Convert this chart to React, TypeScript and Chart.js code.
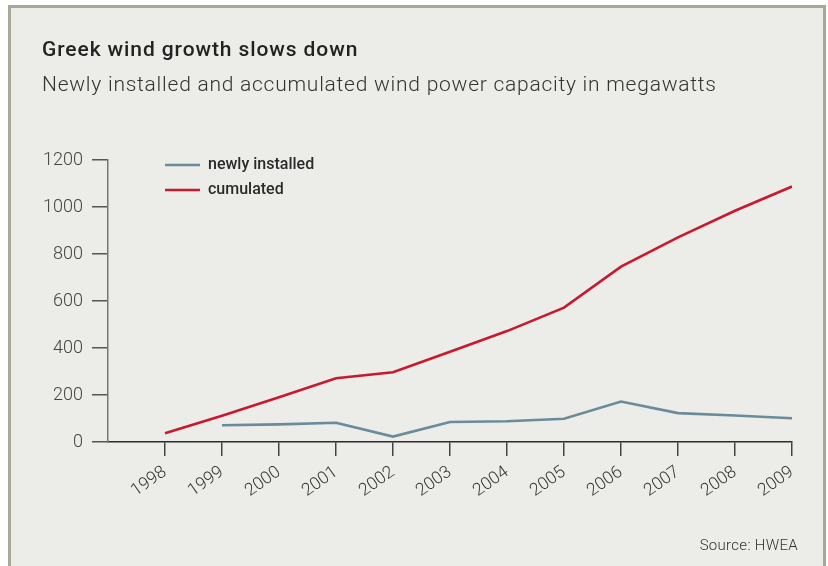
import React, { useEffect, useRef } from "react";
import { Chart, registerables } from "chart.js";

Chart.register(...registerables);

const years = [1998, 1999, 2000, 2001, 2002, 2003, 2004, 2005, 2006, 2007, 2008, 2009];
const cumulated = [37, 112, 190, 271, 297, 384, 472, 572, 746, 871, 984, 1087];
const newlyInstalled = [null, 71, 75, 82, 23, 85, 88, 99, 172, 123, 113, 101];
const seriesLabels = ["newly installed", "cumulated"];
const yTicks = [0, 200, 400, 600, 800, 1000, 1200];

const RED = "#c8192e";
const BLUEGRAY = "#6b8b9b";
const FONT = "Roboto, 'Liberation Sans', sans-serif";

const legendShift = {
  id: "legendShift",
  afterLayout(chart: any) {
    const l = chart.legend;
    const ca = chart.chartArea;
    if (!l || !ca) return;
    const w = l.width;
    const h = l.height;
    l.left = ca.left + 48;
    l.top = ca.top - 12;
    l.right = l.left + w;
    l.bottom = l.top + h;
  },
};

export default function App() {
  const ref = useRef<HTMLCanvasElement | null>(null);

  useEffect(() => {
    if (!ref.current) return;
    const chart = new Chart(ref.current, {
      type: "line",
      data: {
        datasets: [
          {
            label: seriesLabels[0],
            data: years.map((y, i) => ({ x: y, y: newlyInstalled[i] })) as any,
            borderColor: BLUEGRAY,
            backgroundColor: BLUEGRAY,
            borderWidth: 2.6,
            pointRadius: 0,
            tension: 0,
            spanGaps: false,
          },
          {
            label: seriesLabels[1],
            data: years.map((y, i) => ({ x: y, y: cumulated[i] })) as any,
            borderColor: RED,
            backgroundColor: RED,
            borderWidth: 2.6,
            pointRadius: 0,
            tension: 0,
          },
        ],
      },
      options: {
        responsive: false,
        animation: false,
        devicePixelRatio: 1,
        layout: { padding: { top: 160, right: 36, left: 0, bottom: 64 } },
        plugins: {
          title: { display: false },
          tooltip: { enabled: false },
          legend: {
            display: true,
            position: "chartArea" as any,
            align: "start",
            labels: {
              usePointStyle: true,
              pointStyle: "line",
              pointStyleWidth: 35,
              boxHeight: 3,
              padding: 9,
              color: "#2a2a2a",
              font: { family: FONT, size: 16, weight: 500 as any },
            },
          },
        },
        scales: {
          x: {
            type: "linear",
            min: years[0] - 1,
            max: years[years.length - 1],
            afterFit: (s: any) => {
              s.height = 60;
            },
            ticks: {
              stepSize: 1,
              autoSkip: false,
              minRotation: 35,
              maxRotation: 35,
              padding: 6,
              color: "#333",
              font: { family: FONT, size: 17.5, weight: 300 as any },
              callback: (v: any) => (v < years[0] ? "" : String(v)),
            },
            grid: {
              drawOnChartArea: false,
              drawTicks: true,
              tickLength: 14,
              lineWidth: 1.5,
              color: (ctx: any) =>
                ctx.tick && ctx.tick.value < years[0] ? "rgba(0,0,0,0)" : "#444",
            },
            border: { display: true, color: "#2b2b2b", width: 1.5 },
          },
          y: {
            type: "linear",
            min: yTicks[0],
            max: yTicks[yTicks.length - 1],
            afterFit: (s: any) => {
              s.width = 108;
            },
            afterBuildTicks: (s: any) => {
              s.ticks = yTicks.map((v) => ({ value: v }));
            },
            ticks: {
              padding: 9,
              color: "#444",
              font: { family: FONT, size: 18, weight: 300 as any },
              callback: (v: any) => String(v),
            },
            grid: {
              drawOnChartArea: false,
              drawTicks: true,
              tickLength: 16,
              lineWidth: 1.5,
              color: "#555",
            },
            border: { display: true, color: "#777", width: 1.5 },
          },
        },
      },
      plugins: [legendShift],
    });
    return () => chart.destroy();
  }, []);

  return (
    <div
      style={{
        position: "absolute",
        left: 0,
        top: 0,
        width: 828,
        height: 566,
        background: "#fff",
        overflow: "hidden",
        fontFamily: FONT,
      }}
    >
      <div
        style={{
          position: "absolute",
          left: 8,
          top: 5,
          width: 818,
          height: 600,
          boxSizing: "border-box",
          borderTop: "3px solid #a9a796",
          borderLeft: "3px solid #a9a796",
          borderRight: "3px solid #a9a796",
          background: "#ecece8",
        }}
      />
      <canvas
        ref={ref}
        width={828}
        height={566}
        style={{ position: "absolute", left: 0, top: 0, width: 828, height: 566 }}
      />
      <div
        style={{
          position: "absolute",
          left: 42,
          top: 39,
          fontSize: 21,
          lineHeight: "21px",
          fontWeight: 500,
          letterSpacing: 0.9,
          color: "#222",
          whiteSpace: "nowrap",
        }}
      >
        Greek wind growth slows down
      </div>
      <div
        style={{
          position: "absolute",
          left: 42,
          top: 74,
          fontSize: 21,
          lineHeight: "21px",
          fontWeight: 300,
          letterSpacing: 0.75,
          color: "#333",
          whiteSpace: "nowrap",
        }}
      >
        Newly installed and accumulated wind power capacity in megawatts
      </div>
      <div
        style={{
          position: "absolute",
          right: 30,
          top: 538,
          fontSize: 15,
          lineHeight: "15px",
          fontWeight: 300,
          letterSpacing: 0.3,
          color: "#333",
          whiteSpace: "nowrap",
        }}
      >
        Source: HWEA
      </div>
    </div>
  );
}
